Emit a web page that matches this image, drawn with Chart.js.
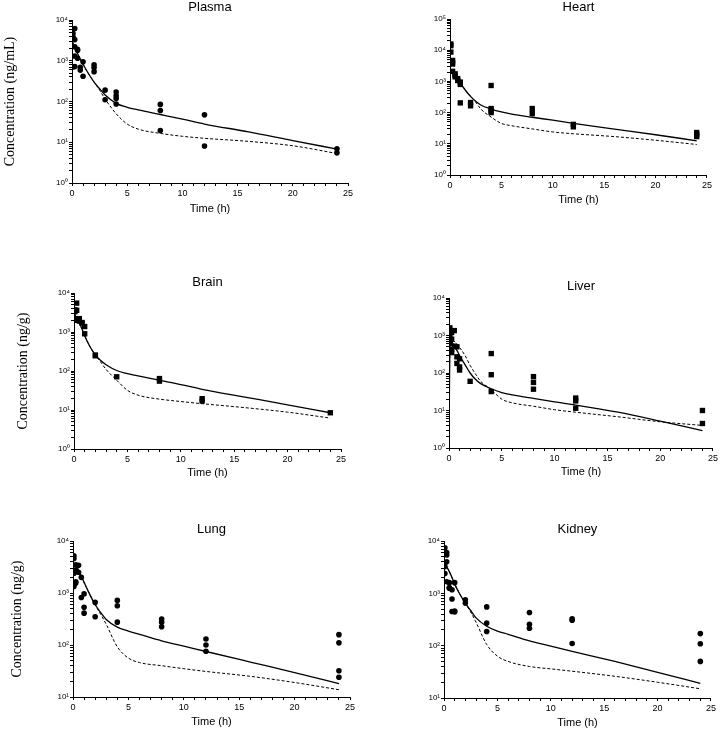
<!DOCTYPE html>
<html lang="en">
<head>
<meta charset="UTF-8">
<title>Concentration - Time</title>
<script src="https://cdn.jsdelivr.net/npm/chart.js@4.4.0/dist/chart.umd.min.js"></script>
<style>
  body { margin: 0; background: #fff; }
  #wrap { position: relative; width: 720px; height: 730px; overflow: hidden; background: #fff; }
  canvas { position: absolute; }
</style>
</head>
<body>
<div id="wrap">
  <canvas id="plasma" width="356" height="216" style="left:2px;top:0px"></canvas>
  <canvas id="heart" width="304" height="207" style="left:410px;top:0px"></canvas>
  <canvas id="brain" width="336" height="205" style="left:15px;top:275px"></canvas>
  <canvas id="liver" width="311" height="200" style="left:409px;top:279px"></canvas>
  <canvas id="lung" width="351" height="207" style="left:9px;top:522px"></canvas>
  <canvas id="kidney" width="314" height="208" style="left:404px;top:522px"></canvas>
</div>
<script>
// Tiempos de las curvas del modelo (h)
const fitTime = [0, 0.25, 0.5, 0.75, 1, 1.5, 2, 2.5, 3, 4, 5, 6, 8, 10, 12, 16, 20, 24];
const liverFitTime = [0, 0.1, 0.25, 0.5, 0.75, 1, 1.5, 2, 2.5, 3, 4, 5, 6, 8, 10, 12, 16, 20, 24];

// Plasma
const plasmaObsTime = [0.083, 0.083, 0.083, 0.083, 0.25, 0.25, 0.25, 0.25, 0.25, 0.5, 0.5, 0.5, 0.75, 0.75, 1, 1, 2, 2, 2, 3, 3, 4, 4, 4, 4, 8, 8, 8, 12, 12, 24, 24];
const plasmaObsConc = [4700, 4000, 3300, 700, 6200, 3300, 2200, 1300, 720, 1900, 1800, 1150, 690, 590, 940, 415, 800, 680, 540, 190, 110, 170, 138, 118, 87, 85, 60, 19.5, 47, 8.1, 6.9, 5.5];
const plasmaSolid = [3000, 2100, 1500, 1100, 820, 480, 300, 205, 145, 90, 72, 62, 48, 37, 28, 18, 11, 6.8];
const plasmaDashed = [3000, 2100, 1500, 1100, 820, 480, 300, 190, 115, 50, 28, 21, 16.5, 14, 12.5, 10.5, 8.2, 5.3];

// Heart
const heartObsTime = [0.083, 0.083, 0.083, 0.25, 0.25, 0.25, 0.25, 0.5, 0.5, 0.5, 0.75, 0.75, 1, 1, 1, 2, 2, 4, 4, 4, 4, 8, 8, 12, 12, 24, 24, 24];
const heartObsConc = [15800, 14000, 8700, 4700, 4100, 3600, 2100, 1750, 1550, 1400, 1230, 1070, 950, 800, 205, 210, 165, 740, 135, 115, 100, 135, 93, 42, 35, 23, 20, 17];
const heartSolid = [2200, 1850, 1550, 1250, 900, 520, 330, 230, 175, 130, 105, 90, 71, 57, 45, 29.5, 19.5, 12.5];
const heartDashed = [2200, 1850, 1550, 1250, 900, 520, 330, 215, 130, 72, 45, 38, 30, 24, 21, 17, 13, 9.5];

// Brain
const brainObsTime = [0.083, 0.083, 0.25, 0.25, 0.25, 0.25, 0.5, 0.5, 0.75, 0.75, 1, 1, 2, 2, 4, 8, 8, 12, 12, 24];
const brainObsConc = [3700, 3300, 5500, 3600, 2200, 2000, 2200, 1900, 1750, 1700, 1380, 900, 257, 245, 71, 64, 55, 19.5, 17, 8.5];
const brainSolid = [3000, 2300, 1700, 1200, 800, 420, 260, 185, 145, 103, 86, 75, 58, 45, 34, 21.5, 13.6, 8.5];
const brainDashed = [3000, 2300, 1700, 1200, 800, 420, 255, 170, 110, 58, 32, 24, 19, 16.5, 14.5, 11.5, 8.8, 6.2];

// Liver
const liverObsTime = [0.083, 0.083, 0.083, 0.083, 0.25, 0.25, 0.25, 0.25, 0.5, 0.5, 0.75, 0.75, 0.75, 1, 1, 1, 2, 4, 4, 4, 8, 8, 8, 12, 12, 12, 24, 24];
const liverObsConc = [1600, 1000, 620, 380, 1200, 800, 430, 350, 1350, 520, 500, 270, 180, 240, 145, 120, 60, 330, 90, 32, 80, 56, 37, 21.5, 18, 11.5, 10, 4.5];
const liverSolid = [1, 800, 700, 520, 400, 290, 170, 100, 68, 52, 38, 30, 26, 21, 17, 14, 9, 5.2, 2.9];
const liverDashed = [1, 900, 820, 700, 600, 480, 300, 160, 95, 60, 36, 20, 16, 13, 10.5, 9, 6.8, 5, 4];

// Lung
const lungObsTime = [0.083, 0.083, 0.083, 0.083, 0.25, 0.25, 0.25, 0.25, 0.25, 0.5, 0.5, 0.75, 0.75, 1, 1, 1, 2, 2, 4, 4, 4, 8, 8, 8, 12, 12, 12, 24, 24, 24, 24];
const lungObsConc = [5200, 4600, 2400, 1330, 3500, 2800, 2600, 1650, 1550, 3400, 2500, 2000, 820, 960, 530, 410, 660, 350, 720, 570, 275, 315, 275, 225, 130, 100, 76, 158, 110, 32, 24];
const lungSolid = [3500, 3200, 2700, 2100, 1600, 950, 600, 420, 310, 220, 185, 160, 120, 95, 75, 47, 29.5, 18];
const lungDashed = [3500, 3200, 2700, 2100, 1600, 950, 590, 390, 250, 92, 56, 46, 40, 35, 31, 25, 19, 13.8];

// Kidney
const kidneyObsTime = [0.083, 0.083, 0.083, 0.25, 0.25, 0.25, 0.25, 0.5, 0.5, 0.5, 0.75, 0.75, 0.75, 1, 1, 1, 2, 2, 4, 4, 4, 8, 8, 8, 12, 12, 12, 24, 24, 24];
const kidneyObsConc = [7450, 3240, 2400, 6000, 5400, 4000, 1670, 1600, 1290, 1250, 1170, 780, 450, 1600, 460, 440, 750, 650, 550, 270, 187, 430, 257, 215, 325, 305, 110, 170, 109, 50];
const kidneySolid = [3800, 3200, 2600, 2000, 1500, 950, 650, 470, 340, 235, 190, 165, 123, 98, 78, 50, 31, 19];
const kidneyDashed = [3800, 3200, 2600, 2000, 1500, 950, 640, 440, 280, 105, 63, 50, 40, 36, 32.5, 26, 20, 15];

const superDigits = ["⁰", "¹", "²", "³", "⁴", "⁵"];

// Unir dos listas en puntos {x, y}
function toPoints(xs, ys) {
    return xs.map((x, i) => ({ x: x, y: ys[i] }));
}

// Marcas del eje log: 1..9 x 10^n
function logTicks(min, max) {
    const ticks = [];
    for (let e = Math.round(Math.log10(min)); e < Math.round(Math.log10(max)); e++) {
        for (let m = 1; m < 10; m++) {
            ticks.push({ value: m * Math.pow(10, e) });
        }
    }
    ticks.push({ value: max });
    return ticks;
}

function makePanel(id, p) {
    new Chart(id, {
        type: "scatter",
        data: {
            datasets: [{
                data: toPoints(p.obsTime, p.obsConc),
                showLine: false,
                pointStyle: p.marker,
                pointRadius: p.marker === "rect" ? 3.8 : 2.8,
                backgroundColor: "#000",
                borderColor: "#000",
                borderWidth: 0
            }, {
                data: toPoints(p.fitTime, p.solid),
                showLine: true,
                pointRadius: 0,
                borderColor: "#000",
                borderWidth: 1.3,
                cubicInterpolationMode: "monotone"
            }, {
                data: toPoints(p.fitTime, p.dashed),
                showLine: true,
                pointRadius: 0,
                borderColor: "#000",
                borderWidth: 1,
                borderDash: [3, 2],
                cubicInterpolationMode: "monotone"
            }]
        },
        options: {
            responsive: false,
            animation: false,
            layout: { padding: { top: 0, left: 0, bottom: 0, right: p.padRight } },
            plugins: {
                legend: { display: false },
                tooltip: { enabled: false },
                title: {
                    display: true,
                    text: p.title,
                    fullSize: false,
                    color: "#000",
                    font: { family: "Liberation Sans", size: 13, weight: "normal" },
                    padding: { top: 0, bottom: p.titleBox - 15.6 }
                }
            },
            scales: {
                x: {
                    type: "linear",
                    min: 0,
                    max: 25,
                    border: { color: "#000", width: 1 },
                    grid: { drawOnChartArea: false, color: "#000", tickLength: 3 },
                    ticks: {
                        stepSize: 1,
                        autoSkip: false,
                        maxRotation: 0,
                        padding: 2,
                        color: "#000",
                        font: { family: "Liberation Sans", size: 9 },
                        callback: (v) => (v % 5 === 0 ? v : "")
                    },
                    title: {
                        display: true,
                        text: "Time (h)",
                        color: "#000",
                        font: { family: "Liberation Sans", size: 11 },
                        padding: 0
                    },
                    afterFit: (scale) => { scale.height = p.xHeight; }
                },
                y: {
                    type: "logarithmic",
                    min: p.yMin,
                    max: p.yMax,
                    border: { color: "#000", width: 1 },
                    grid: { drawOnChartArea: false, color: "#000", tickLength: 3 },
                    afterBuildTicks: (scale) => { scale.ticks = logTicks(p.yMin, p.yMax); },
                    ticks: {
                        autoSkip: false,
                        padding: 1,
                        color: "#000",
                        font: { family: "Liberation Sans", size: 8 },
                        callback: (v) => {
                            const e = Math.log10(v);
                            return Math.abs(e - Math.round(e)) < 1e-9 ? "10" + superDigits[Math.round(e)] : "";
                        }
                    },
                    title: {
                        display: !!p.yLabel,
                        text: p.yLabel || "",
                        color: "#000",
                        font: { family: "Liberation Serif", size: 14 },
                        padding: 0
                    },
                    afterFit: (scale) => { scale.width = p.yWidth; }
                }
            }
        }
    });
}

makePanel("plasma", {
    title: "Plasma", yLabel: "Concentration (ng/mL)", yMin: 1, yMax: 10000, marker: "circle",
    obsTime: plasmaObsTime, obsConc: plasmaObsConc, fitTime: fitTime, solid: plasmaSolid, dashed: plasmaDashed,
    yWidth: 70, titleBox: 20, xHeight: 33, padRight: 10
});
makePanel("heart", {
    title: "Heart", yMin: 1, yMax: 100000, marker: "rect",
    obsTime: heartObsTime, obsConc: heartObsConc, fitTime: fitTime, solid: heartSolid, dashed: heartDashed,
    yWidth: 40, titleBox: 19, xHeight: 32, padRight: 7
});
makePanel("brain", {
    title: "Brain", yLabel: "Concentration (ng/g)", yMin: 1, yMax: 10000, marker: "rect",
    obsTime: brainObsTime, obsConc: brainObsConc, fitTime: fitTime, solid: brainSolid, dashed: brainDashed,
    yWidth: 59, titleBox: 18, xHeight: 31, padRight: 10
});
makePanel("liver", {
    title: "Liver", yMin: 1, yMax: 10000, marker: "rect",
    obsTime: liverObsTime, obsConc: liverObsConc, fitTime: liverFitTime, solid: liverSolid, dashed: liverDashed,
    yWidth: 40, titleBox: 19, xHeight: 31, padRight: 7
});
makePanel("lung", {
    title: "Lung", yLabel: "Concentration (ng/g)", yMin: 10, yMax: 10000, marker: "circle",
    obsTime: lungObsTime, obsConc: lungObsConc, fitTime: fitTime, solid: lungSolid, dashed: lungDashed,
    yWidth: 64, titleBox: 19, xHeight: 32, padRight: 10
});
makePanel("kidney", {
    title: "Kidney", yMin: 10, yMax: 10000, marker: "circle",
    obsTime: kidneyObsTime, obsConc: kidneyObsConc, fitTime: fitTime, solid: kidneySolid, dashed: kidneyDashed,
    yWidth: 40, titleBox: 19, xHeight: 32, padRight: 7
});
</script>
</body>
</html>
